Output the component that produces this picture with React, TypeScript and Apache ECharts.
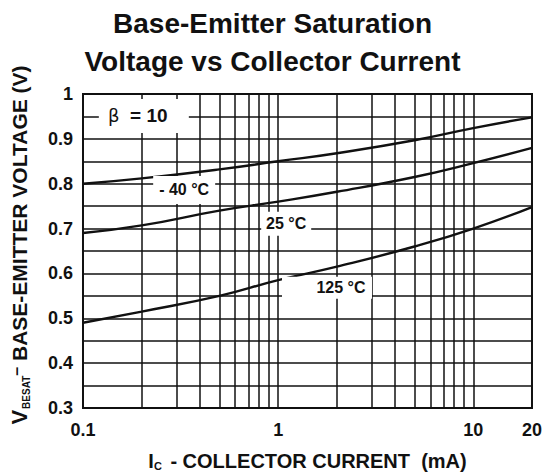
import { useEffect, useRef } from "react";
import * as echarts from "echarts";

// Collector current (mA) sample points
const currents = [0.1, 0.2, 0.5, 1, 2, 5, 10, 20];
// V_BE(sat) (V) per temperature
const vMinus40 = [0.8, 0.812, 0.832, 0.85, 0.868, 0.897, 0.924, 0.948];
const v25 = [0.69, 0.707, 0.74, 0.76, 0.782, 0.815, 0.846, 0.88];
const v125 = [0.49, 0.515, 0.55, 0.585, 0.615, 0.66, 0.7, 0.748];

const xTickLabels = [0.1, 1, 10, 20];
const xGridLines = [0.2, 0.3, 0.4, 0.5, 0.6, 0.7, 0.8, 0.9, 1, 2, 3, 4, 5, 6, 7, 8, 9, 10];
const yTickLabels = [0.3, 0.4, 0.5, 0.6, 0.7, 0.8, 0.9, 1];

const FONT = "'Liberation Sans', Arial, Helvetica, sans-serif";
const INK = "#111";

const toPts = (vals: number[]) => currents.map((c, i) => [Math.log10(c), vals[i]]);
const fmtCurrent = (v: number) => {
  const n = Math.pow(10, v);
  return n < 1 ? n.toFixed(1) : String(Math.round(n));
};

export default function App() {
  const ref = useRef<HTMLDivElement>(null);
  useEffect(() => {
    if (!ref.current) return;
    const chart = echarts.init(ref.current, null, { renderer: "svg" });
    const curveStyle = { color: INK, width: 2.4 };
    const boxLabel = (size: number) => ({
      show: true,
      position: "inside",
      color: INK,
      fontFamily: FONT,
      fontWeight: "bold",
      fontSize: size,
    });
    chart.setOption({
      animation: false,
      backgroundColor: "#fff",
      title: {
        text: "Base-Emitter Saturation\nVoltage vs Collector Current",
        left: "center",
        top: -1,
        textStyle: {
          fontFamily: FONT,
          fontWeight: "bold",
          fontSize: 28,
          lineHeight: 38,
          color: INK,
        },
      },
      grid: {
        left: 75,
        right: 12,
        top: 94,
        bottom: 66,
        show: true,
        borderColor: INK,
        borderWidth: 2,
        backgroundColor: "transparent",
      },
      xAxis: {
        type: "value",
        min: Math.log10(0.1),
        max: Math.log10(20),
        axisLine: { show: false },
        axisTick: { show: false },
        splitLine: { show: false },
        axisLabel: {
          customValues: xTickLabels.map((v) => Math.log10(v)),
          formatter: (v: number) => fmtCurrent(v),
          fontFamily: FONT,
          fontWeight: "bold",
          fontSize: 18,
          color: INK,
          margin: 13,
        },
        name: "I{c|C} - COLLECTOR CURRENT  (mA)",
        nameLocation: "middle",
        nameGap: 43,
        nameTextStyle: {
          fontFamily: FONT,
          fontWeight: "bold",
          fontSize: 20,
          color: INK,
          rich: {
            c: { fontFamily: FONT, fontWeight: "bold", fontSize: 11, color: INK, verticalAlign: "bottom", padding: [9, 3, 0, 0] },
          },
        },
      },
      yAxis: {
        type: "value",
        min: 0.3,
        max: 1,
        interval: 0.05,
        axisLine: { show: false },
        axisTick: { show: false },
        splitLine: { show: true, lineStyle: { color: INK, width: 1.5 } },
        axisLabel: {
          customValues: yTickLabels,
          formatter: (v: number) => (Math.abs(v - 1) < 1e-9 ? "1" : v.toFixed(1)),
          fontFamily: FONT,
          fontWeight: "bold",
          fontSize: 18,
          color: INK,
          margin: 10,
        },
        name: "{v|V}{s|BESAT}{d|–} BASE-EMITTER VOLTAGE (V)",
        nameLocation: "middle",
        nameRotate: 90,
        nameGap: 52,
        nameTextStyle: {
          fontFamily: FONT,
          fontWeight: "bold",
          fontSize: 21,
          color: INK,
          padding: [0, 0, 0, 12],
          rich: {
            v: { fontFamily: FONT, fontWeight: "bold", fontSize: 22, color: INK },
            s: { fontFamily: FONT, fontWeight: "bold", fontSize: 10, color: INK, verticalAlign: "bottom", padding: [7, 0, 0, 1] },
            d: { fontFamily: FONT, fontWeight: "bold", fontSize: 16, color: INK, verticalAlign: "top", padding: [0, 0, 7, 0] },
          },
        },
      },
      series: [
        {
          name: "grid",
          type: "line",
          silent: true,
          z: 1,
          symbol: "none",
          lineStyle: { width: 0, opacity: 0 },
          data: [toPts(vMinus40)[0]],
          markLine: {
            silent: true,
            symbol: ["none", "none"],
            label: { show: false },
            lineStyle: { color: INK, width: 1.5, type: "solid" },
            data: xGridLines.map((v) => ({ xAxis: Math.log10(v) })),
          },
        },
        { name: "-40 °C", type: "line", z: 3, smooth: true, symbol: "none", lineStyle: curveStyle, data: toPts(vMinus40) },
        { name: "25 °C", type: "line", z: 3, smooth: true, symbol: "none", lineStyle: curveStyle, data: toPts(v25) },
        { name: "125 °C", type: "line", z: 3, smooth: true, symbol: "none", lineStyle: curveStyle, data: toPts(v125) },
        {
          name: "labels",
          type: "line",
          silent: true,
          z: 10,
          symbol: "none",
          lineStyle: { width: 0, opacity: 0 },
          data: [toPts(vMinus40)[0]],
          markPoint: {
            silent: true,
            symbol: "rect",
            itemStyle: { color: "#fff" },
            data: [
              {
                coord: [Math.log10(0.205), 0.951],
                symbolSize: [90, 34],
                label: {
                  ...boxLabel(19),
                  formatter: "{b|β}  = 10",
                  offset: [-6, 0],
                  rich: { b: { fontFamily: "'DejaVu Sans', sans-serif", fontWeight: "normal", fontSize: 18, color: INK } },
                },
              },
              {
                coord: [Math.log10(0.33), 0.786],
                symbolSize: [62, 28],
                label: { ...boxLabel(16), formatter: "- 40 °C" },
              },
              {
                coord: [Math.log10(1.1), 0.711],
                symbolSize: [50, 24],
                label: { ...boxLabel(16), formatter: "25 °C" },
              },
              {
                coord: [Math.log10(1.78), 0.568],
                symbolSize: [90, 22],
                label: { ...boxLabel(16), formatter: "125 °C", offset: [14, 0] },
              },
            ],
          },
        },
      ],
    });
    return () => chart.dispose();
  }, []);
  return (
    <div
      ref={ref}
      style={{ position: "fixed", left: 0, top: 0, width: 545, height: 476, background: "#fff" }}
    />
  );
}
